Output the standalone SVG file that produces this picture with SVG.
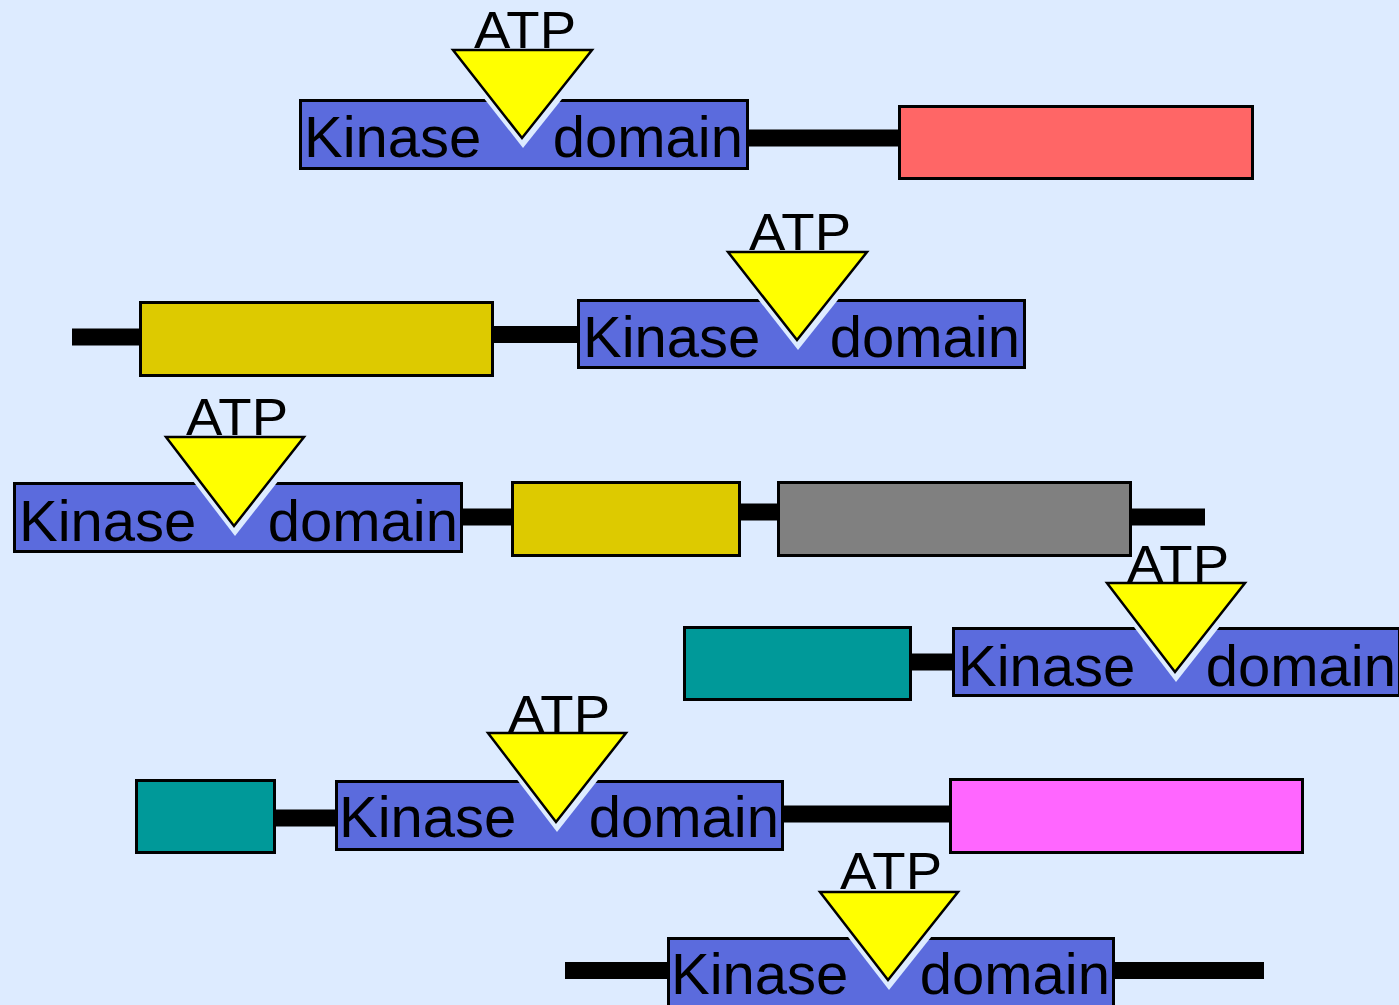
<svg xmlns="http://www.w3.org/2000/svg" width="1399" height="1005" viewBox="0 0 1399 1005">
<style>
.kd{fill:#5B6BDD;stroke:#000;stroke-width:3}
.dom{stroke:#000;stroke-width:3}
.red{fill:#FF6666}.olive{fill:#DDCA00}.grey{fill:#808080}.teal{fill:#009999}.mag{fill:#FF66FF}
.link{stroke:#000;stroke-width:17}
.gap{fill:#DDEBFF}
.tri{fill:#FFFF00;stroke:#000;stroke-width:2.5}
.lbl{font-family:"Liberation Sans",Arial,sans-serif;font-size:58px;fill:#000}
.atp{font-family:"Liberation Sans",Arial,sans-serif;font-size:51px;fill:#000;text-anchor:middle}
.end{text-anchor:end}
</style>
<rect width="1399" height="1005" fill="#DDEBFF"/>
<g id="connectors">
<line class="link" x1="745" y1="138" x2="900" y2="138"/>
<line class="link" x1="72" y1="337" x2="142" y2="337"/>
<line class="link" x1="492" y1="334.5" x2="579" y2="334.5"/>
<line class="link" x1="460" y1="517" x2="513" y2="517"/>
<line class="link" x1="738" y1="512" x2="779" y2="512"/>
<line class="link" x1="1129" y1="517" x2="1205" y2="517"/>
<line class="link" x1="909" y1="662" x2="955" y2="662"/>
<line class="link" x1="273" y1="818" x2="338" y2="818"/>
<line class="link" x1="781" y1="814" x2="952" y2="814"/>
<line class="link" x1="565" y1="970.5" x2="670" y2="970.5"/>
<line class="link" x1="1112" y1="970.5" x2="1264" y2="970.5"/>
</g>
<g id="red-domain"><rect class="dom red" x="899.5" y="106.5" width="353" height="72"/></g>
<g id="olive-domain-1"><rect class="dom olive" x="140.5" y="302.5" width="352" height="73"/></g>
<g id="olive-domain-2"><rect class="dom olive" x="512.5" y="482.5" width="227" height="73"/></g>
<g id="grey-domain"><rect class="dom grey" x="778.5" y="482.5" width="352" height="73"/></g>
<g id="teal-domain-1"><rect class="dom teal" x="684.5" y="627.5" width="226" height="72"/></g>
<g id="teal-domain-2"><rect class="dom teal" x="136.5" y="780.5" width="138" height="72"/></g>
<g id="magenta-domain"><rect class="dom mag" x="950.5" y="779.5" width="352" height="73"/></g>

<g id="kinase-1">
<rect class="kd" x="300.5" y="100.5" width="447" height="68"/>
<polygon class="gap" points="454,60 593,60 523,148"/>
<polygon class="tri" points="453,50 592,50 522,138"/>
<text class="lbl" x="304" y="157">Kinase</text>
<text class="lbl end" x="743" y="157">domain</text>
<text class="atp" x="525" y="48" textLength="102" lengthAdjust="spacingAndGlyphs">ATP</text>
</g>
<g id="kinase-2">
<rect class="kd" x="578.5" y="300.5" width="446" height="67"/>
<polygon class="gap" points="729,262 868,262 798,350"/>
<polygon class="tri" points="728,252 867,252 797,340"/>
<text class="lbl" x="583" y="357">Kinase</text>
<text class="lbl end" x="1020" y="357">domain</text>
<text class="atp" x="800" y="250" textLength="102" lengthAdjust="spacingAndGlyphs">ATP</text>
</g>
<g id="kinase-3">
<rect class="kd" x="14.5" y="483.5" width="447" height="68"/>
<polygon class="gap" points="167,447 305,447 235,536"/>
<polygon class="tri" points="166,437 304,437 234,526"/>
<text class="lbl" x="19" y="541">Kinase</text>
<text class="lbl end" x="458" y="541">domain</text>
<text class="atp" x="237" y="435" textLength="102" lengthAdjust="spacingAndGlyphs">ATP</text>
</g>
<g id="kinase-4">
<rect class="kd" x="953.5" y="628.5" width="446" height="67"/>
<polygon class="gap" points="1108,593 1246,593 1176,682"/>
<polygon class="tri" points="1107,583 1245,583 1175,672"/>
<text class="lbl" x="958" y="686">Kinase</text>
<text class="lbl end" x="1396" y="686">domain</text>
<text class="atp" x="1178" y="582" textLength="102" lengthAdjust="spacingAndGlyphs">ATP</text>
</g>
<g id="kinase-5">
<rect class="kd" x="336.5" y="781.5" width="446" height="68"/>
<polygon class="gap" points="489,743 627,743 557,832"/>
<polygon class="tri" points="488,733 626,733 556,822"/>
<text class="lbl" x="339" y="837">Kinase</text>
<text class="lbl end" x="779" y="837">domain</text>
<text class="atp" x="559" y="732" textLength="102" lengthAdjust="spacingAndGlyphs">ATP</text>
</g>
<g id="kinase-6">
<rect class="kd" x="668.5" y="938.5" width="445" height="72"/>
<polygon class="gap" points="821,902 959,902 889,990"/>
<polygon class="tri" points="820,892 958,892 888,980"/>
<text class="lbl" x="671" y="994">Kinase</text>
<text class="lbl end" x="1110" y="994">domain</text>
<text class="atp" x="891" y="889" textLength="102" lengthAdjust="spacingAndGlyphs">ATP</text>
</g>
</svg>
